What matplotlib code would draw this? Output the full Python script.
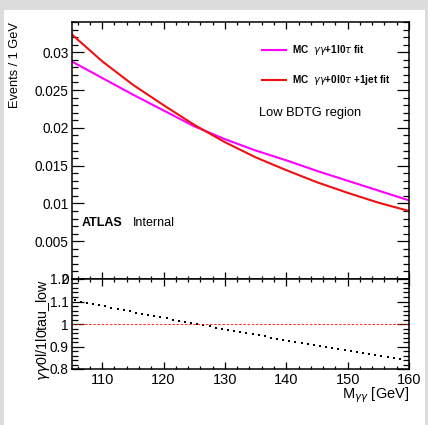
import matplotlib
matplotlib.use("Agg")
import matplotlib.pyplot as plt
import numpy as np
from matplotlib.patches import Rectangle
from matplotlib.ticker import MultipleLocator

plt.rcParams["font.family"] = ["Liberation Sans", "DejaVu Sans"]

# fitted shapes, every 5 GeV
mass = [105, 110, 115, 120, 125, 130, 135, 140, 145, 150, 155, 160]
fit_1l0tau = [0.0288, 0.0266, 0.0244, 0.0223, 0.0202, 0.0185, 0.0170, 0.0157,
              0.0143, 0.0130, 0.0117, 0.0104]
fit_0l0tau_1jet = [0.0324, 0.0288, 0.0257, 0.0230, 0.0204, 0.0181, 0.0161, 0.0144,
                   0.0128, 0.0114, 0.0101, 0.0090]

# ratio points, 1 GeV bins
ratio_mass = np.arange(105.5, 159.0, 1.0)
ratio = [1.106, 1.100, 1.095, 1.089, 1.084, 1.078, 1.073, 1.067, 1.062, 1.057,
         1.051, 1.046, 1.041, 1.035, 1.030, 1.025, 1.020, 1.015, 1.009, 1.004,
         0.999, 0.994, 0.989, 0.984, 0.979, 0.974, 0.969, 0.964, 0.959, 0.955,
         0.950, 0.945, 0.940, 0.935, 0.931, 0.926, 0.921, 0.917, 0.912, 0.907,
         0.903, 0.898, 0.894, 0.889, 0.885, 0.880, 0.876, 0.871, 0.867, 0.862,
         0.858, 0.854, 0.849, 0.845]

W, H = 428, 425
fig = plt.figure(figsize=(W / 100, H / 100), dpi=100)
fig.patch.set_facecolor("#dcdcdc")
fig.patches.append(Rectangle((4 / W, 0), 421 / W, 1 - 10 / H, transform=fig.transFigure,
                             facecolor="white", edgecolor="none", zorder=-5))

left, right = 71.5, 409
ax = fig.add_axes([left / W, 1 - 279 / H, (right - left) / W, (279 - 22) / H])
rax = fig.add_axes([left / W, 1 - 369 / H, (right - left) / W, (369 - 279) / H])

ax.plot(mass, fit_1l0tau, color="#ff00ff", lw=1.5, label=r"MC  $\gamma\gamma$+1l0$\tau$ fit")
ax.plot(mass, fit_0l0tau_1jet, color="#ee1111", lw=1.5,
        label=r"MC  $\gamma\gamma$+0l0$\tau$ +1jet fit")
ax.set_xlim(105, 160)
ax.set_ylim(0, 0.034)
ax.yaxis.set_minor_locator(MultipleLocator(0.001))
ax.set_yticks([0, 0.005, 0.01, 0.015, 0.02, 0.025, 0.03])
ax.set_yticklabels(["0", "0.005", "0.01", "0.015", "0.02", "0.025", "0.03"])

rax.plot(ratio_mass, ratio, ls="none", marker="s", ms=2.1, mew=0, color="black")
rax.axhline(1.0, color="red", lw=0.6, ls=(0, (3, 2)))
rax.set_xlim(105, 160)
rax.set_ylim(0.8, 1.2)
rax.set_yticks([0.8, 0.9, 1.0, 1.1, 1.2])
rax.set_yticklabels(["0.8", "0.9", "1", "1.1", "1.2"])
rax.yaxis.set_minor_locator(MultipleLocator(0.02))

for a in (ax, rax):
    a.xaxis.set_major_locator(MultipleLocator(10))
    a.xaxis.set_minor_locator(MultipleLocator(2))
    a.tick_params(which="both", direction="in", top=True, right=True, width=0.9)
    a.tick_params(axis="y", which="major", length=8.5, labelsize=9.8, pad=2)
    a.tick_params(axis="y", which="minor", length=4.3)
    a.tick_params(axis="x", which="major", length=5)
    a.tick_params(axis="x", which="minor", length=2.5)
    for s in a.spines.values():
        s.set_linewidth(1.1)
ax.tick_params(axis="x", labelbottom=False)
rax.tick_params(axis="x", labelsize=10.5, pad=3)

leg = ax.legend(loc="upper left", bbox_to_anchor=(0.564, 0.918), frameon=False,
                borderaxespad=0, borderpad=0, handlelength=2.4, handletextpad=0.6,
                labelspacing=1.6, prop={"size": 7.2, "weight": "bold"})

fig.text(310 / W, 1 - 113 / H, "Low BDTG region", fontsize=9.3, ha="center", va="center")
fig.text(82 / W, 1 - 223 / H, "ATLAS", fontsize=9, weight="bold", ha="left", va="center")
fig.text(133 / W, 1 - 223 / H, "Internal", fontsize=9, ha="left", va="center")
fig.text(15 / W, 1 - 22 / H, "Events / 1 GeV", fontsize=9.2, rotation=90, ha="center", va="top")
fig.text(43 / W, 1 - 330 / H, r"$\gamma\gamma$0l/1l0tau_low", fontsize=10.3, rotation=90,
         ha="center", va="center")
fig.text(409 / W, 1 - 395 / H, r"M$_{\gamma\gamma}$ [GeV]", fontsize=10.5, ha="right", va="center")

fig.savefig("out.png", dpi=100, facecolor=fig.get_facecolor())
